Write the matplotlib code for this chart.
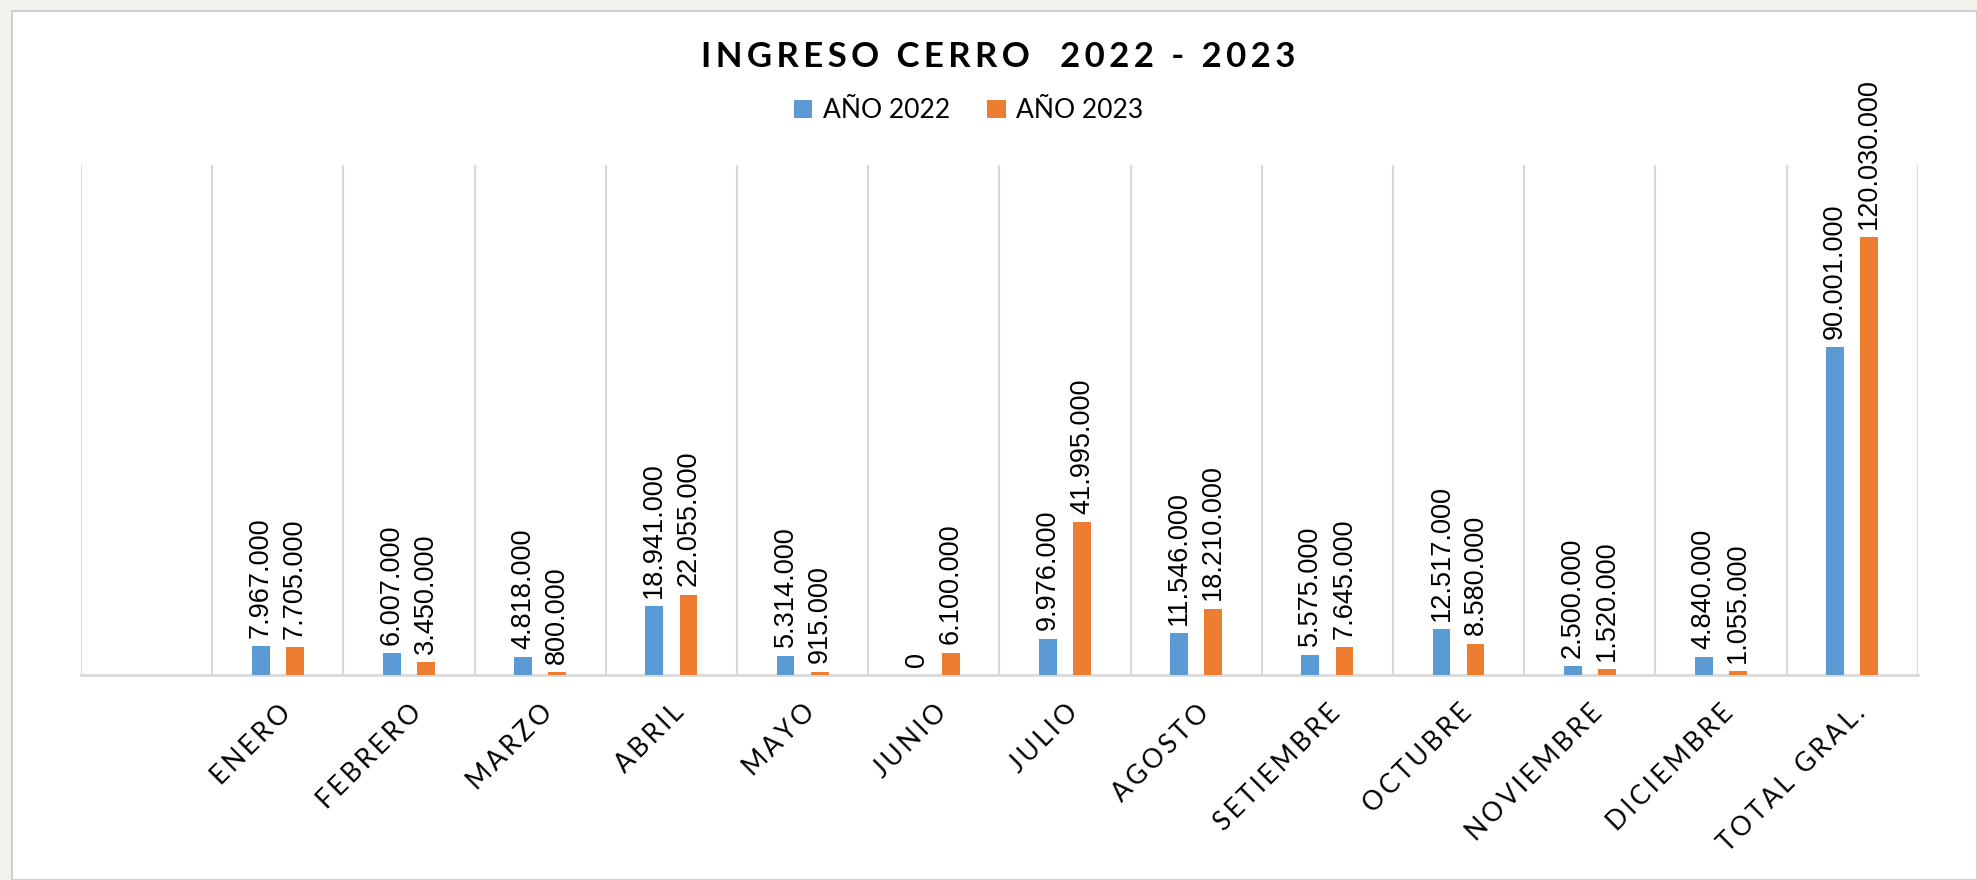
import numpy as np
import matplotlib
matplotlib.use('Agg')
from matplotlib import pyplot as plt
from matplotlib.patches import Rectangle

plt.rcParams['font.family'] = ['Lato', 'DejaVu Sans']

# datos
meses = ['', 'ENERO', 'FEBRERO', 'MARZO', 'ABRIL', 'MAYO', 'JUNIO', 'JULIO',
         'AGOSTO', 'SETIEMBRE', 'OCTUBRE', 'NOVIEMBRE', 'DICIEMBRE', 'TOTAL GRAL.']
anio_2022 = [None, 7967000, 6007000, 4818000, 18941000, 5314000, 0, 9976000,
             11546000, 5575000, 12517000, 2500000, 4840000, 90001000]
anio_2023 = [None, 7705000, 3450000, 800000, 22055000, 915000, 6100000, 41995000,
             18210000, 7645000, 8580000, 1520000, 1055000, 120030000]
series = ['AÑO 2022', 'AÑO 2023']
colores = ['#5B9BD5', '#ED7D31']


def fmt(v):
    # separador de miles con punto
    return f'{v:,}'.replace(',', '.')


def espaciado(s):
    # letras un poco separadas, como en excel
    return '\u2009'.join(s)


fig = plt.figure(figsize=(19.77, 8.8), dpi=100)
fig.patch.set_facecolor('#F3F1EC')
# marco blanco del grafico
fig.patches.append(Rectangle((0.006, 0.0), 0.994, 0.988, transform=fig.transFigure,
                             facecolor='white', edgecolor='#D0D0D0', lw=1.5, zorder=-5))

ax = fig.add_axes([0.041, 0.233, 0.929, 0.58])
ax.set_facecolor('none')

x = np.arange(len(meses))
w = 0.135
offs = [-0.13, 0.13]
for vals, off, col, lab in zip([anio_2022, anio_2023], offs, colores, series):
    xs = [xi + off for xi, v in zip(x, vals) if v is not None]
    vs = [v for v in vals if v is not None]
    ax.bar(xs, vs, width=w, color=col, label=lab, zorder=3)
    for xi, v in zip(xs, vs):
        ax.annotate(fmt(v), (xi, v), xytext=(0, 6), textcoords='offset points',
                    rotation=90, ha='center', va='bottom', fontsize=19.5,
                    family=['Liberation Sans', 'DejaVu Sans'])

ax.set_xlim(-0.5, len(meses) - 0.5)
ax.set_ylim(0, 140000000)
ax.set_yticks([])
ax.set_xticks(x)
ax.set_xticklabels([espaciado(m) for m in meses], rotation=45, ha='right',
                   rotation_mode='anchor', fontsize=19)
ax.tick_params(axis='x', length=0, pad=18)
for xb in np.arange(-0.5, len(meses), 1.0):
    ax.axvline(xb, color='#D9D9D9', lw=1.5, zorder=1)
for s in ['top', 'right', 'left']:
    ax.spines[s].set_visible(False)
ax.spines['bottom'].set_color('#D9D9D9')
ax.spines['bottom'].set_linewidth(2)

fig.text(0.505, 0.935, espaciado('INGRESO CERRO  2022 - 2023'),
         ha='center', va='center', fontsize=25, fontweight='bold')
fig.legend(loc='center', bbox_to_anchor=(0.49, 0.874), ncol=2, frameon=False,
           fontsize=19, handlelength=0.7, handleheight=0.7, columnspacing=1.4,
           handletextpad=0.4)

fig.savefig('out.png', dpi=100, facecolor=fig.get_facecolor())
